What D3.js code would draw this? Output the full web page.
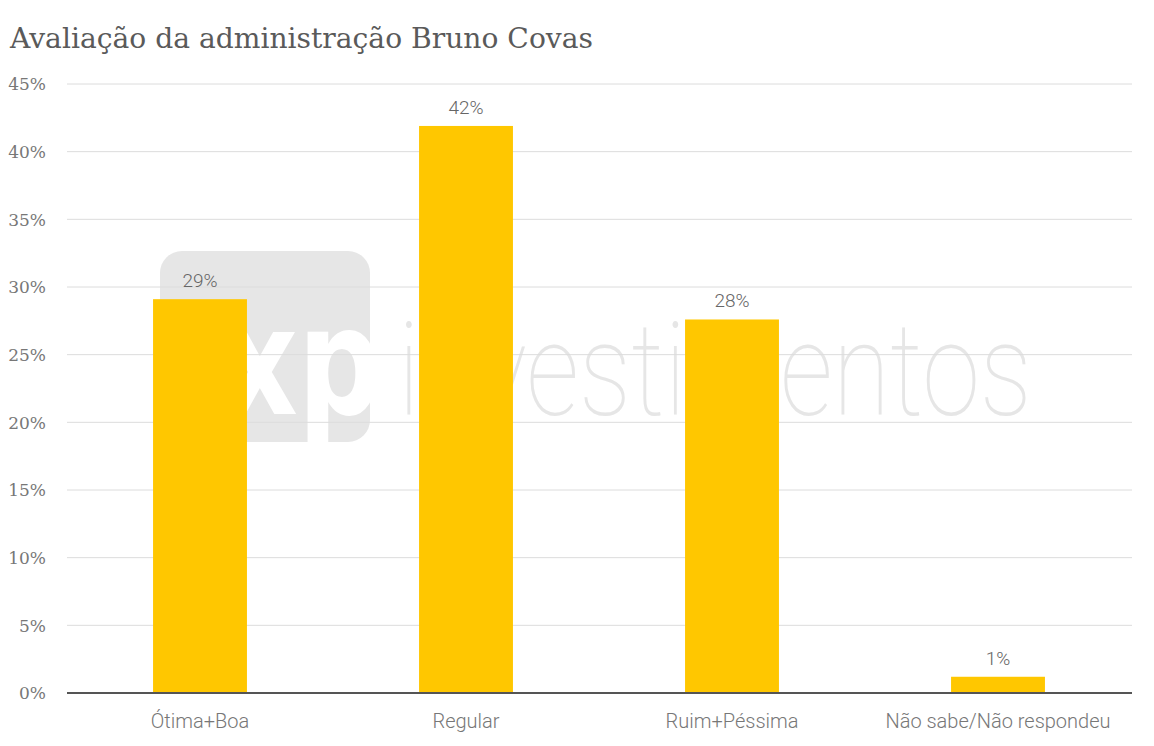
<!DOCTYPE html>
<html>
<head>
<meta charset="utf-8">
<script src="https://cdn.jsdelivr.net/npm/d3@7"></script>
<style>
  html, body { margin: 0; padding: 0; background: #fff; }
  svg { display: block; }
</style>
</head>
<body>
<div id="chart"></div>
<script>
const title = "Avaliação da administração Bruno Covas";
const categories = ["Ótima+Boa", "Regular", "Ruim+Péssima", "Não sabe/Não respondeu"];
const values = [29.1, 41.9, 27.6, 1.2];
const valueLabels = ["29%", "42%", "28%", "1%"];
const yTicks = [0, 5, 10, 15, 20, 25, 30, 35, 40, 45];

const W = 1154, H = 746;
const svg = d3.select("#chart").append("svg").attr("width", W).attr("height", H);

const x = d3.scaleBand().domain(categories).range([67, 1131]).paddingInner(0.647).paddingOuter(0.3235);
const y = d3.scaleLinear().domain([0, 45]).range([693, 84]);

// Watermark
const wm = svg.append("g").attr("class", "watermark");
const defs = svg.append("defs");
defs.append("clipPath").attr("id", "wmclip")
  .append("rect").attr("x", 160).attr("y", 251).attr("width", 210).attr("height", 191).attr("rx", 22);
wm.append("rect").attr("x", 160).attr("y", 251).attr("width", 210).attr("height", 191).attr("rx", 22)
  .attr("fill", "#e6e6e6");
wm.append("text").attr("clip-path", "url(#wmclip)")
  .attr("x", 222).attr("y", 414)
  .attr("font-family", "'DejaVu Sans', Arial, sans-serif").attr("font-weight", "bold")
  .attr("font-size", 150).attr("fill", "#fff")
  .attr("textLength", 160).attr("lengthAdjust", "spacingAndGlyphs")
  .text("xp");
wm.append("text")
  .attr("x", 398).attr("y", 415)
  .attr("font-family", "Roboto, sans-serif").attr("font-weight", 100)
  .attr("font-size", 130).attr("fill", "#e6e6e6")
  .attr("textLength", 634).attr("lengthAdjust", "spacingAndGlyphs")
  .text("investimentos");

// Gridlines
svg.append("g").selectAll("line").data(yTicks.filter(d => d > 0)).join("line")
  .attr("x1", 67).attr("x2", 1132)
  .attr("y1", d => y(d)).attr("y2", d => y(d))
  .attr("stroke", "#dcdcdc").attr("stroke-width", 1);

// Y axis labels
const yAxis = d3.axisLeft(y).tickValues(yTicks).tickSize(0).tickPadding(0).tickFormat(d => d + "%");
const yg = svg.append("g").attr("transform", "translate(46,0)").call(yAxis);
yg.select(".domain").remove();
yg.selectAll("text")
  .attr("font-family", "'DejaVu Serif', serif").attr("font-size", 17).attr("fill", "#777")
  .attr("dy", "0.35em");

// Bars
svg.append("g").selectAll("rect").data(categories).join("rect")
  .attr("x", d => x(d)).attr("width", x.bandwidth())
  .attr("y", (d, i) => y(values[i])).attr("height", (d, i) => y(0) - y(values[i]))
  .attr("fill", "#ffc700");

// Value labels
svg.append("g").selectAll("text").data(categories).join("text")
  .attr("x", d => x(d) + x.bandwidth() / 2)
  .attr("y", (d, i) => y(values[i]) - 12)
  .attr("text-anchor", "middle")
  .attr("font-family", "Roboto, sans-serif").attr("font-weight", 300)
  .attr("font-size", 19).attr("fill", "#666")
  .text((d, i) => valueLabels[i]);

// X axis
const xAxis = d3.axisBottom(x).tickSize(0).tickPadding(0);
const xg = svg.append("g").attr("transform", `translate(0,${y(0)})`).call(xAxis);
xg.select(".domain").remove();
xg.append("line").attr("x1", 67).attr("x2", 1132).attr("y1", 0).attr("y2", 0)
  .attr("stroke", "#555").attr("stroke-width", 2);
xg.selectAll(".tick text")
  .attr("y", 35).attr("dy", 0)
  .attr("font-family", "Roboto, sans-serif").attr("font-weight", 300)
  .attr("font-size", 20).attr("fill", "#777");

// Title
svg.append("text").attr("x", 10).attr("y", 48)
  .attr("font-family", "'DejaVu Serif', serif").attr("font-size", 27)
  .attr("fill", "#5a5a5a")
  .attr("textLength", 583).attr("lengthAdjust", "spacingAndGlyphs")
  .text(title);
</script>
</body>
</html>
